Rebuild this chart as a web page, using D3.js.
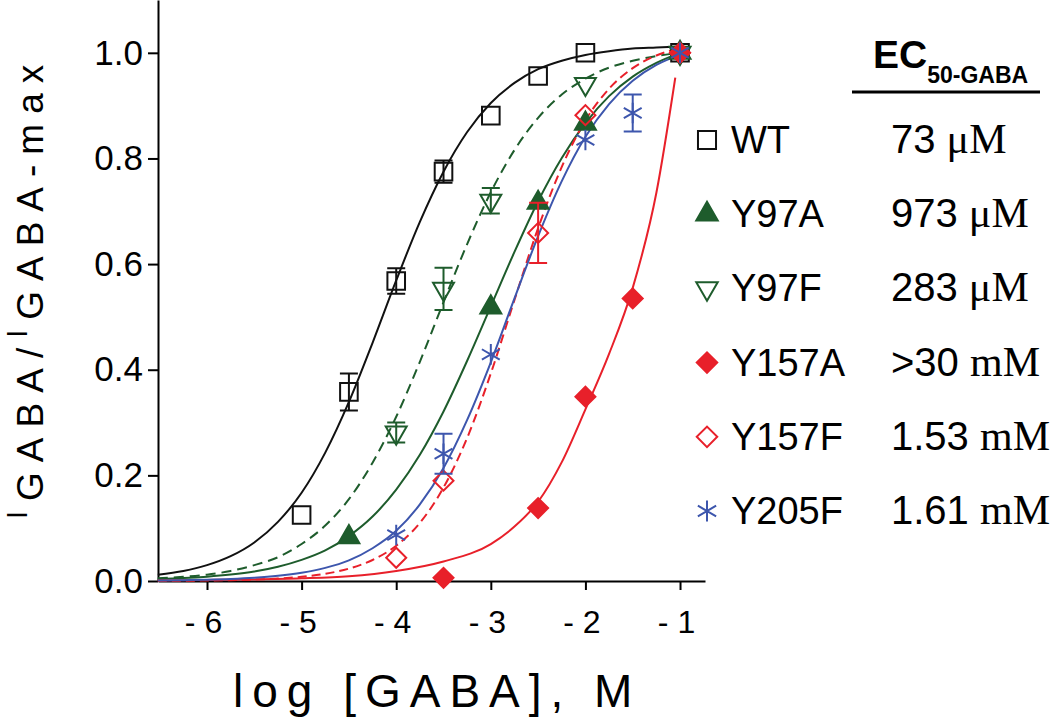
<!DOCTYPE html>
<html>
<head>
<meta charset="utf-8">
<script src="https://cdn.jsdelivr.net/npm/d3@7"></script>
<style>
  body { margin: 0; background: #fff; }
  svg { display: block; }
  text { font-family: "Liberation Sans", Arial, Helvetica, sans-serif; }
</style>
</head>
<body>
<svg id="chart" width="1050" height="719"></svg>
<script>
// tick labels
var xTicks = [-6, -5, -4, -3, -2, -1];
var yTicks = [0, 0.2, 0.4, 0.6, 0.8, 1.0];

// legend / EC50 table
var seriesNames = ["WT", "Y97A", "Y97F", "Y157A", "Y157F", "Y205F"];
var ec50Values = ["73", "973", "283", ">30", "1.53", "1.61"];
var ec50Units = ["\u03bcM", "\u03bcM", "\u03bcM", "mM", "mM", "mM"];

// measured points: [log GABA, I/Imax, error]
var wtData = [[-5, 0.125, 0], [-4.5, 0.358, 0.035], [-4, 0.568, 0.024], [-3.5, 0.775, 0.021], [-3, 0.881, 0], [-2.5, 0.956, 0], [-2, 1.0, 0], [-1, 1.0, 0]];
var y97aData = [[-4.5, 0.083, 0], [-3, 0.518, 0], [-2.5, 0.716, 0], [-2, 0.866, 0], [-1, 1.0, 0]];
var y97fData = [[-4, 0.281, 0.019], [-3.5, 0.553, 0.04], [-3, 0.72, 0.024], [-2, 0.941, 0], [-1, 1.0, 0]];
var y157aData = [[-3.5, 0.006, 0], [-2.5, 0.138, 0], [-2, 0.349, 0], [-1.5, 0.535, 0], [-1, 1.0, 0]];
var y157fData = [[-4, 0.044, 0], [-3.5, 0.19, 0], [-2.5, 0.659, 0.057], [-2, 0.882, 0], [-1, 1.0, 0]];
var y205fData = [[-4, 0.087, 0], [-3.5, 0.241, 0.038], [-3, 0.429, 0], [-2, 0.835, 0], [-1.5, 0.886, 0.035], [-1, 1.0, 0]];

// fitted curves
var fitX = [-6.52, -6.25, -6, -5.75, -5.5, -5.25, -5, -4.75, -4.5, -4.25, -4, -3.75, -3.5, -3.25, -3, -2.75, -2.5, -2.25, -2, -1.75, -1.5, -1.25, -1];
var wtFit = [0.012, 0.019, 0.030, 0.047, 0.073, 0.112, 0.167, 0.243, 0.339, 0.451, 0.569, 0.680, 0.775, 0.850, 0.905, 0.943, 0.969, 0.985, 0.996, 1.003, 1.008, 1.010, 1.012];
var y97aFit = [0.0037, 0.0055, 0.0082, 0.0122, 0.018, 0.027, 0.040, 0.058, 0.085, 0.122, 0.173, 0.239, 0.321, 0.417, 0.520, 0.623, 0.719, 0.801, 0.867, 0.918, 0.955, 0.981, 1.000];
var y97fFit = [0.005, 0.008, 0.012, 0.019, 0.030, 0.045, 0.070, 0.105, 0.155, 0.224, 0.311, 0.415, 0.528, 0.638, 0.736, 0.816, 0.877, 0.921, 0.951, 0.972, 0.985, 0.994, 1.000];
var y157fFit = [0.0003, 0.0005, 0.0009, 0.0016, 0.0027, 0.0046, 0.0080, 0.0137, 0.0234, 0.0398, 0.0668, 0.110, 0.177, 0.271, 0.393, 0.532, 0.668, 0.784, 0.872, 0.932, 0.971, 0.995, 1.009];
var y205fFit = [0.0009, 0.0015, 0.0024, 0.0038, 0.0061, 0.0098, 0.0156, 0.0248, 0.039, 0.062, 0.095, 0.145, 0.214, 0.305, 0.414, 0.535, 0.653, 0.757, 0.841, 0.903, 0.947, 0.977, 0.996];
var y157aFitX = [-6.52, -6, -5.5, -5, -4.5, -4, -3.5, -3, -2.75, -2.5, -2.25, -2, -1.75, -1.5, -1.25, -1.05];
var y157aFit = [0.001, 0.002, 0.003, 0.005, 0.009, 0.019, 0.037, 0.07, 0.103, 0.15, 0.225, 0.325, 0.43, 0.555, 0.735, 0.953];

var green = "#1e5c2c", red = "#e8202a", blue = "#3d56ad", black = "#111";

var series = [
  {name: seriesNames[0], data: wtData, fx: fitX, fy: wtFit, color: black, dash: null, shape: "square", filled: false},
  {name: seriesNames[1], data: y97aData, fx: fitX, fy: y97aFit, color: green, dash: null, shape: "triangle", filled: true},
  {name: seriesNames[2], data: y97fData, fx: fitX, fy: y97fFit, color: green, dash: "10,6", shape: "triangleDown", filled: false},
  {name: seriesNames[3], data: y157aData, fx: y157aFitX, fy: y157aFit, color: red, dash: null, shape: "diamond", filled: true},
  {name: seriesNames[4], data: y157fData, fx: fitX, fy: y157fFit, color: red, dash: "9,5", shape: "diamond", filled: false},
  {name: seriesNames[5], data: y205fData, fx: fitX, fy: y205fFit, color: blue, dash: null, shape: "asterisk", filled: false}
];

var svg = d3.select("#chart");

var x = d3.scaleLinear().domain([-6.518, -0.736]).range([158, 705]);
var y = d3.scaleLinear().domain([0, 1.1]).range([581, 0]);

// axes
var xAxis = svg.append("g")
  .attr("transform", "translate(0," + y(0) + ")")
  .call(d3.axisBottom(x).tickValues(xTicks).tickSize(9).tickSizeOuter(0)
    .tickFormat(function (d) { return "- " + Math.abs(d); }));
xAxis.selectAll("text")
  .attr("y", 52).attr("dy", 0).attr("dx", -4)
  .style("font-size", "32px").attr("fill", "#000");

var yAxis = svg.append("g")
  .attr("transform", "translate(" + x.range()[0] + ",0)")
  .call(d3.axisLeft(y).tickValues(yTicks).tickSize(10).tickSizeOuter(0).tickPadding(5)
    .tickFormat(d3.format(".1f")));
yAxis.selectAll("text")
  .style("font-size", "35px").attr("fill", "#000");

svg.selectAll(".domain, .tick line")
  .attr("stroke", "#000").attr("stroke-width", 2);

// fitted curves
var line = d3.line()
  .x(function (d) { return x(d[0]); })
  .y(function (d) { return y(d[1]); })
  .curve(d3.curveMonotoneX);

svg.append("g").selectAll("path")
  .data(series)
  .enter().append("path")
  .attr("d", function (s) {
    return line(s.fx.map(function (v, i) { return [v, s.fy[i]]; }));
  })
  .attr("fill", "none")
  .attr("stroke", function (s) { return s.color; })
  .attr("stroke-width", 2)
  .attr("stroke-dasharray", function (s) { return s.dash; });

function symbolPath(shape, scale) {
  scale = scale || 1;
  if (shape === "square") return d3.symbol().type(d3.symbolSquare).size(310 * scale)();
  if (shape === "triangle" || shape === "triangleDown") return d3.symbol().type(d3.symbolTriangle).size(190 * scale)();
  if (shape === "diamond") return d3.symbol().type(d3.symbolSquare).size(200 * scale)();
  return d3.symbol().type(d3.symbolAsterisk).size(300 * scale)();
}
function symbolRotate(shape) {
  if (shape === "triangleDown") return " rotate(180)";
  if (shape === "diamond") return " rotate(45)";
  return "";
}
function drawSymbol(g, s, cx, cy, scale) {
  g.append("path")
    .attr("d", symbolPath(s.shape, scale))
    .attr("transform", "translate(" + cx + "," + cy + ")" + symbolRotate(s.shape))
    .attr("fill", s.filled ? s.color : "none")
    .attr("stroke", s.color)
    .attr("stroke-width", 2);
}

// error bars and markers
series.forEach(function (s) {
  var g = svg.append("g");
  s.data.forEach(function (d) {
    if (d[2] > 0) {
      var cx = x(d[0]);
      g.append("path")
        .attr("d", "M" + cx + "," + y(d[1] + d[2]) + "V" + y(d[1] - d[2]) +
          "M" + (cx - 9) + "," + y(d[1] + d[2]) + "H" + (cx + 9) +
          "M" + (cx - 9) + "," + y(d[1] - d[2]) + "H" + (cx + 9))
        .attr("stroke", s.color).attr("stroke-width", 2).attr("fill", "none");
    }
    drawSymbol(g, s, x(d[0]), y(d[1]), 1);
  });
});

// axis titles
var yTitle = svg.append("text")
  .attr("transform", "translate(43,519) rotate(-90)")
  .style("letter-spacing", "10px")
  .attr("fill", "#000");
yTitle.append("tspan").text("I").style("font-size", "29px").attr("dy", -16);
yTitle.append("tspan").text("GABA").style("font-size", "37px").attr("dy", 16);
yTitle.append("tspan").text("/").style("font-size", "37px");
yTitle.append("tspan").text("I").style("font-size", "29px").attr("dy", -16);
yTitle.append("tspan").text("GABA-max").style("font-size", "37px").attr("dy", 16);

svg.append("text")
  .attr("x", 233).attr("y", 707)
  .style("font-size", "46px")
  .style("letter-spacing", "9px")
  .attr("fill", "#000")
  .text("log [GABA], M");

// EC50 header
var head = svg.append("text")
  .attr("x", 873).attr("y", 68)
  .style("font-weight", "bold").style("font-size", "39px")
  .attr("fill", "#000");
head.append("tspan").text("EC");
head.append("tspan").text("50-GABA").style("font-size", "23px").attr("dy", 15);
svg.append("line")
  .attr("x1", 852).attr("x2", 1040).attr("y1", 92).attr("y2", 92)
  .attr("stroke", "#000").attr("stroke-width", 3);

// legend rows
series.forEach(function (s, i) {
  var base = 153 + i * 74.2;
  var g = svg.append("g");
  drawSymbol(g, s, 707, base - 13, 1.05);
  g.append("text")
    .attr("x", 731).attr("y", base)
    .style("font-size", "38px").attr("fill", "#000")
    .text(s.name);
  var t = g.append("text")
    .attr("x", 891).attr("y", base)
    .attr("fill", "#000");
  t.append("tspan").text(ec50Values[i] + " ").style("font-size", "40px");
  t.append("tspan").text(ec50Units[i])
    .style("font-size", "42px")
    .style("font-family", "'Liberation Serif', 'Times New Roman', serif");
});
</script>
</body>
</html>
